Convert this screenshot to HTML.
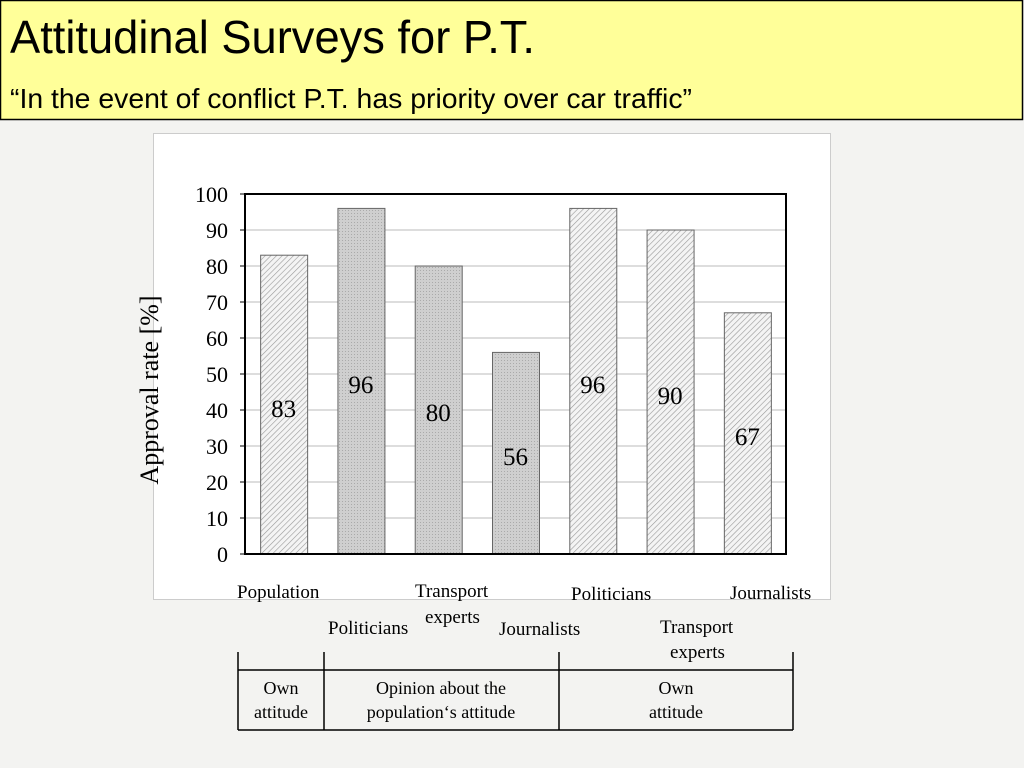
<!DOCTYPE html>
<html><head><meta charset="utf-8"><style>
html,body{margin:0;padding:0;width:1024px;height:768px;overflow:hidden;background:#f3f3f1;}
svg{display:block}
</style></head><body>
<svg width="1024" height="768" xmlns="http://www.w3.org/2000/svg">
<defs>
<pattern id="hatch" width="4" height="4" patternUnits="userSpaceOnUse" patternTransform="rotate(45)">
<rect width="4" height="4" fill="#f4f4f4"/><line x1="0" y1="0" x2="0" y2="4" stroke="#999" stroke-width="1.2"/>
</pattern>
<pattern id="dots" width="3" height="3" patternUnits="userSpaceOnUse">
<rect width="3" height="3" fill="#cfcfcf"/><rect width="1" height="1" fill="#aaa"/>
</pattern>
</defs>
<g>
<rect x="0.5" y="0.5" width="1022" height="119" fill="#ffff99" stroke="#000" stroke-width="1.5"/>
<text x="10" y="53" font-family="Liberation Sans, sans-serif" font-size="46" textLength="525" lengthAdjust="spacingAndGlyphs">Attitudinal Surveys for P.T.</text>
<text x="10" y="108" font-family="Liberation Sans, sans-serif" font-size="28" textLength="682" lengthAdjust="spacingAndGlyphs">“In the event of conflict P.T. has priority over car traffic”</text>
</g>
<rect x="153.5" y="133.5" width="677" height="466" fill="#fff" stroke="#ccc"/>
<g id="chart" font-family="Liberation Serif, serif" fill="#000"></g>
<g font-family="Liberation Serif, serif" font-size="19">
<text x="237" y="598">Population</text>
<text x="415" y="597">Transport</text>
<text x="425" y="623">experts</text>
<text x="571" y="600">Politicians</text>
<text x="730" y="599">Journalists</text>
<text x="328" y="634">Politicians</text>
<text x="499" y="635">Journalists</text>
<text x="660" y="633">Transport</text>
<text x="670" y="658">experts</text>
</g>
<g stroke="#000" stroke-width="1.5" fill="none">
<line x1="238" y1="652" x2="238" y2="730"/><line x1="324" y1="652" x2="324" y2="730"/>
<line x1="559" y1="652" x2="559" y2="730"/><line x1="793" y1="652" x2="793" y2="730"/>
<line x1="238" y1="670" x2="793" y2="670"/><line x1="238" y1="730" x2="793" y2="730"/>
</g>
<g font-family="Liberation Serif, serif" font-size="18" text-anchor="middle">
<text x="281" y="694">Own</text><text x="281" y="718">attitude</text>
<text x="441" y="694">Opinion about the</text><text x="441" y="718">population‘s attitude</text>
<text x="676" y="694">Own</text><text x="676" y="718">attitude</text>
</g>
</svg>
<script>
const categories = ["Population","Politicians","Transport experts","Journalists","Politicians","Journalists","Transport experts"];
const values = [83,96,80,56,96,90,67];
const fills = ["hatch","dots","dots","dots","hatch","hatch","hatch"];
const labelValues = [83,96,80,56,96,90,67];
const labelY = [408,384,412,456,384,395,436];
const yTicks = [0,10,20,30,40,50,60,70,80,90,100];
const NS="http://www.w3.org/2000/svg";
const g=document.getElementById('chart');
const X0=245,X1=786,Y0=554,Y1=194;
const y=v=>Y0-(v/100)*(Y0-Y1);
const step=(X1-X0)/categories.length;
const x=i=>X0+step*i+(step-47)/2;
function mk(t,a){const e=document.createElementNS(NS,t);for(const k in a)e.setAttribute(k,a[k]);g.appendChild(e);return e;}
yTicks.forEach(t=>{
 if(t>0&&t<100){const l=mk('line',{x1:X0,x2:X1,y1:y(t),y2:y(t),stroke:'#bbb','stroke-width':1});
 
 }
 const tk=mk('line',{x1:X0-5,x2:X0,y1:y(t),y2:y(t),stroke:'#000'});
 
 
 const tx=mk('text',{x:X0-17,y:y(t)+8,'font-size':22,'text-anchor':'end'});tx.textContent=t;
 
 
});
values.forEach((v,i)=>{
 const r=mk('rect',{x:x(i)+0.5,y:y(v),width:47,height:Y0-y(v),fill:'url(#'+fills[i]+')',stroke:'#666','stroke-width':1});
 
 
 const t=mk('text',{x:x(i)+23.5,y:labelY[i]+9,'font-size':25,'text-anchor':'middle'});t.textContent=labelValues[i];
 
 
});
const ax=mk('path',{d:`M${X0} ${Y1}H${X1}V${Y0}H${X0}Z`,fill:'none',stroke:'#000','stroke-width':2});


const yt=mk('text',{x:0,y:0,'font-size':26,'text-anchor':'middle',transform:'translate(158,390) rotate(-90)'});
yt.textContent='Approval rate  [%]';


</script>
</body></html>
